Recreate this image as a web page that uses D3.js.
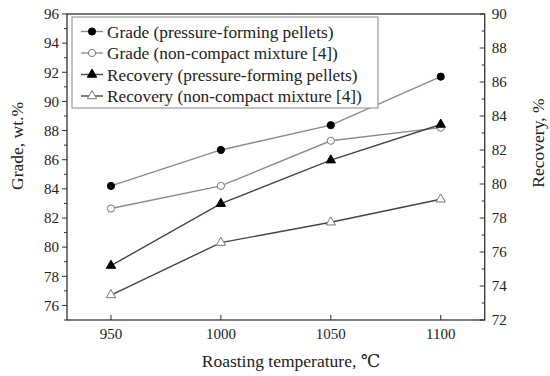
<!DOCTYPE html>
<html><head><meta charset="utf-8">
<script src="https://cdn.jsdelivr.net/npm/d3@7"></script>
<style>body{margin:0;background:#fff}svg{display:block}</style>
</head><body><svg id="c" width="550" height="376" font-family="Liberation Serif, Times New Roman, Times, DejaVu Serif, serif"></svg>
<script>
const temps = [950, 1000, 1050, 1100];
const gradePellets = [84.2, 86.67, 88.37, 91.7];
const gradeMixture = [82.65, 84.2, 87.3, 88.2];
const recPellets = [75.2, 78.84, 81.4, 83.5];
const recMixture = [73.47, 76.55, 77.75, 79.1];
const gradeTicks = [76, 78, 80, 82, 84, 86, 88, 90, 92, 94, 96];
const recTicks = [72, 74, 76, 78, 80, 82, 84, 86, 88, 90];
const legendLabels = ["Grade (pressure-forming pellets)", "Grade (non-compact mixture [4])",
  "Recovery (pressure-forming pellets)", "Recovery (non-compact mixture [4])"];

const L = 67, R = 484.7, T = 14, B = 320;
const svg = d3.select("#c");
const x = d3.scaleLinear().domain([930, 1120]).range([L, R]);
const yL = d3.scaleLinear().domain([75, 96]).range([B, T]);
const yR = d3.scaleLinear().domain([72, 90]).range([B, T]);

const series = [
  {vals: gradePellets, y: yL, color: "#8a8a8a", sym: "circle", fill: "#000"},
  {vals: gradeMixture, y: yL, color: "#8a8a8a", sym: "circle", fill: "#fff", stroke: "#777"},
  {vals: recPellets, y: yR, color: "#444", sym: "triangle", fill: "#000"},
  {vals: recMixture, y: yR, color: "#444", sym: "triangle", fill: "#fff", stroke: "#777"}
];

svg.append("rect").attr("x", L).attr("y", T).attr("width", R - L).attr("height", B - T)
  .attr("fill", "none").attr("stroke", "#333").attr("stroke-width", 1.3);

const gl = svg.append("g").attr("transform", `translate(${L},0)`);
d3.range(75, 97, 1).forEach(v => {
  gl.append("line").attr("x1", 0).attr("x2", gradeTicks.includes(v) ? -5 : -3)
    .attr("y1", yL(v)).attr("y2", yL(v)).attr("stroke", "#333");
});
gradeTicks.forEach(v => {
  gl.append("text").attr("x", -8).attr("y", yL(v)).attr("dy", "0.35em").attr("fill", "#222")
    .attr("text-anchor", "end").attr("font-size", 15).text(v);
});

const gr = svg.append("g").attr("transform", `translate(${R},0)`);
d3.range(72, 91, 1).forEach(v => {
  gr.append("line").attr("x1", 0).attr("x2", recTicks.includes(v) ? -5 : -3)
    .attr("y1", yR(v)).attr("y2", yR(v)).attr("stroke", "#333");
});
recTicks.forEach(v => {
  gr.append("text").attr("x", 7).attr("y", yR(v)).attr("dy", "0.35em").attr("fill", "#222")
    .attr("text-anchor", "start").attr("font-size", 15).text(v);
});

const gb = svg.append("g");
temps.forEach(t => {
  gb.append("line").attr("x1", x(t)).attr("x2", x(t)).attr("y1", B).attr("y2", B - 5).attr("stroke", "#333");
  gb.append("text").attr("x", x(t)).attr("y", B + 18.5).attr("text-anchor", "middle").attr("fill", "#222")
    .attr("font-size", 15).text(t);
});

svg.append("text").attr("x", 291).attr("y", 366.5).attr("text-anchor", "middle").attr("fill", "#222")
  .attr("font-size", 17.5).text("Roasting temperature, ℃");
svg.append("text").attr("transform", "translate(22.5,146) rotate(-90)").attr("text-anchor", "middle").attr("fill", "#222")
  .attr("font-size", 17.5).text("Grade, wt.%");
svg.append("text").attr("transform", "translate(543.5,143) rotate(-90)").attr("text-anchor", "middle").attr("fill", "#222")
  .attr("font-size", 17.5).text("Recovery, %");

function marker(g, s, cx, cy) {
  if (s.sym === "circle") {
    g.append("circle").attr("cx", cx).attr("cy", cy).attr("r", 3.6)
      .attr("fill", s.fill).attr("stroke", s.stroke || "#000").attr("stroke-width", 1);
  } else {
    g.append("path").attr("transform", `translate(${cx},${cy})`)
      .attr("d", d3.symbol().type(d3.symbolTriangle).size(38)())
      .attr("fill", s.fill).attr("stroke", s.stroke || "#000").attr("stroke-width", 1);
  }
}

series.forEach(s => {
  const line = d3.line().x((d, i) => x(temps[i])).y(d => s.y(d));
  svg.append("path").datum(s.vals).attr("d", line).attr("fill", "none")
    .attr("stroke", s.color).attr("stroke-width", 1.4);
  const g = svg.append("g");
  s.vals.forEach((v, i) => marker(g, s, x(temps[i]), s.y(v)));
});

const lg = svg.append("g");
lg.append("rect").attr("x", 72).attr("y", 17).attr("width", 306).attr("height", 91)
  .attr("fill", "#fff").attr("stroke", "#888").attr("stroke-width", 1);
const ly = [31.5, 53, 74.5, 96];
series.forEach((s, i) => {
  lg.append("line").attr("x1", 81).attr("x2", 103).attr("y1", ly[i]).attr("y2", ly[i])
    .attr("stroke", s.color).attr("stroke-width", 1.4);
  marker(lg, s, 92, ly[i]);
  lg.append("text").attr("x", 107).attr("y", ly[i]).attr("dy", "0.35em").attr("fill", "#222")
    .attr("font-size", 17.3).text(legendLabels[i]);
});
</script></body></html>
